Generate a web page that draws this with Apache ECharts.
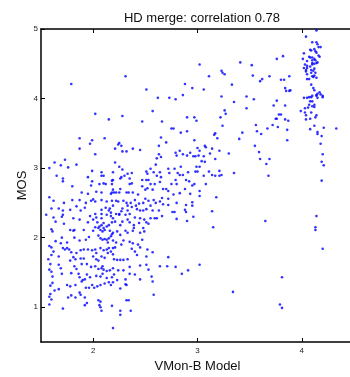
<!DOCTYPE html>
<html><head><meta charset="utf-8">
<script src="https://cdn.jsdelivr.net/npm/echarts@6/dist/echarts.min.js"></script>
<style>html,body{margin:0;padding:0;background:#fff}#c{width:350px;height:377px}</style>
</head><body><div id="c"></div>
<script>
var titleText = "HD merge: correlation 0.78";
var xName = "VMon-B Model";
var yName = "MOS";
var xTicks = [2, 3, 4];
var yTicks = [1, 2, 3, 4, 5];

// upper-left region (x 1.5-3, y 3.1-5)
var pointsUpperLeft = [
[1.79,4.21],[2.31,4.32],[2.51,4.13],[2.62,4.01],[2.73,4.01],[2.79,3.99],[2.86,4.05],[2.88,4.21],[2.95,4.15],[3.02,4.49],
[2.02,3.78],[2.15,3.70],[2.28,3.75],[2.57,3.82],[2.47,3.67],[2.66,3.67],[2.90,3.73],[2.97,3.73],[2.99,3.68],[2.75,3.57],[2.77,3.57],[2.84,3.51],[2.90,3.53],
[1.87,3.43],[1.99,3.40],[1.97,3.35],[2.11,3.43],[1.87,3.28],[2.02,3.20],[2.25,3.36],[2.24,3.34],[2.27,3.32],[2.21,3.28],[2.28,3.24],[2.32,3.24],[2.38,3.28],[2.45,3.26],[2.63,3.20],[2.65,3.44],[2.70,3.37],[2.63,3.32],[2.65,3.16],[2.61,3.14],[2.79,3.22],[2.80,3.18],[2.83,3.25],[2.86,3.20],[2.90,3.18],[2.93,3.22],[2.96,3.17],[2.98,3.17],[3.01,3.18],[3.00,3.29],[1.58,3.00]
];

// lower-left dense region (x 1.5-3, y 0.5-3.1)
var pointsLowerLeft = [
[1.63,3.08],[1.69,3.04],[1.73,3.12],[1.76,3.01],[1.84,3.05],[2.21,3.08],[2.25,3.02],[2.28,2.98],[2.60,3.05],[1.65,2.89],[1.71,2.85],[1.71,2.81],[1.99,2.96],[2.08,2.94],[2.10,2.89],[2.08,2.89],[2.19,2.94],[2.33,2.92],[2.37,2.93],[2.27,2.87],[2.35,2.85],[2.47,2.83],[2.51,2.83],[2.53,2.83],[2.51,2.95],[2.52,2.92],[2.55,2.99],[2.58,2.94],[2.61,2.89],[2.64,2.94],[2.65,2.87],[2.72,2.99],[2.73,2.93],[2.78,2.99],[2.81,2.93],[2.83,2.90],[2.84,3.02],[2.86,2.90],[2.91,2.94],
[1.80,2.74],[1.95,2.87],[1.99,2.81],[1.98,2.75],[2.06,2.77],[2.10,2.78],[2.12,2.77],[2.18,2.82],[2.19,2.83],[2.18,2.77],[2.26,2.85],[2.30,2.89],[2.35,2.77],[2.37,2.78],[2.19,2.69],[2.22,2.65],[2.25,2.65],[2.32,2.65],[2.34,2.65],[2.38,2.65],[2.43,2.62],[2.47,2.74],[2.50,2.69],[2.52,2.71],[2.55,2.77],[2.57,2.69],[2.59,2.77],[2.64,2.80],[2.67,2.70],[2.70,2.70],[2.72,2.67],[2.79,2.83],[2.80,2.77],[2.75,2.77],[2.89,2.83],[2.92,2.81],[2.88,2.70],[2.77,2.62],[2.83,2.64],[1.89,2.65],[1.95,2.63],[2.03,2.66],[2.08,2.65],[2.18,2.65],[2.20,2.65],[2.17,2.63],[2.26,2.70],
[1.58,2.58],[1.62,2.53],[1.72,2.50],[1.80,2.54],[1.87,2.54],[1.93,2.50],[1.98,2.53],[2.00,2.55],[2.02,2.52],[2.08,2.54],[2.13,2.52],[2.18,2.53],[2.19,2.46],[2.16,2.42],[2.22,2.53],[2.24,2.52],[2.29,2.53],[2.32,2.50],[2.33,2.46],[2.36,2.50],[2.40,2.54],[2.41,2.46],[2.44,2.49],[2.48,2.50],[2.50,2.56],[2.53,2.53],[2.55,2.46],[2.58,2.54],[2.60,2.50],[2.64,2.52],[2.66,2.57],[2.67,2.48],[2.72,2.56],[2.72,2.47],[2.80,2.50],[2.89,2.47],
[1.60,2.42],[1.67,2.42],[1.71,2.39],[1.71,2.33],[1.78,2.40],[1.84,2.45],[1.88,2.39],[1.92,2.43],[2.08,2.40],[2.12,2.43],[2.15,2.39],[2.17,2.36],[2.25,2.34],[2.27,2.38],[2.28,2.42],[2.33,2.39],[2.37,2.44],[2.42,2.41],[2.45,2.39],[2.48,2.39],[2.51,2.41],[2.57,2.39],[2.63,2.39],[2.76,2.37],[2.78,2.37],[2.88,2.40],[2.89,2.37],
[1.55,2.33],[1.64,2.23],[1.62,2.29],[1.70,2.30],[1.72,2.20],[1.81,2.28],[1.87,2.26],[1.97,2.31],[2.02,2.34],[2.03,2.29],[2.00,2.26],[2.08,2.34],[2.08,2.28],[2.13,2.33],[2.17,2.31],[2.19,2.28],[2.22,2.34],[2.25,2.33],[2.31,2.33],[2.35,2.34],[2.40,2.29],[2.45,2.28],[2.49,2.26],[2.51,2.22],[2.53,2.20],[2.55,2.28],[2.59,2.28],[2.61,2.28],[2.66,2.31],[2.80,2.27],[2.90,2.24],[2.96,2.30],[1.95,2.22],[2.04,2.22],[2.08,2.18],[2.10,2.21],[2.06,2.16],[2.10,2.14],[2.15,2.18],[2.18,2.22],[2.21,2.23],[2.26,2.18],[2.28,2.23],[2.33,2.26],[2.35,2.22],[2.39,2.18],[2.44,2.21],[2.39,2.14],[2.48,2.14],
[1.60,2.12],[1.61,2.09],[1.78,2.11],[1.81,2.10],[1.82,2.11],[1.91,2.11],[2.00,2.10],[2.02,2.15],[2.05,2.14],[2.07,2.11],[2.09,2.09],[2.11,2.11],[2.13,2.16],[2.16,2.10],[2.18,2.05],[2.19,2.07],[2.23,2.09],[2.31,2.10],[2.33,2.07],[2.38,2.10],[2.45,2.07],[2.49,2.09],[2.26,2.04],[1.96,2.01],[1.93,1.97],[1.87,1.96],[1.82,2.00],[1.70,2.00],[1.64,1.95],[1.69,1.92],[1.75,1.93],[2.05,2.03],[2.07,1.99],[2.09,1.97],[2.11,1.98],[2.13,1.97],[2.15,1.99],[2.17,2.02],[2.19,1.96],[2.22,1.93],[2.29,1.96],[2.35,1.94],[2.27,1.90],[2.38,1.92],[2.43,1.90],[2.47,1.97],[2.14,1.93],
[1.58,1.88],[1.60,1.86],[1.62,1.80],[1.60,1.75],[1.57,1.69],[1.71,1.85],[1.73,1.83],[1.75,1.85],[1.77,1.83],[1.79,1.79],[1.84,1.78],[1.88,1.82],[1.91,1.83],[1.95,1.83],[1.99,1.82],[2.02,1.83],[2.03,1.78],[2.07,1.85],[2.10,1.82],[2.13,1.83],[2.15,1.85],[2.17,1.80],[2.19,1.85],[2.21,1.86],[2.08,1.73],[2.11,1.71],[2.14,1.78],[2.19,1.76],[2.20,1.69],[2.23,1.68],[2.26,1.68],[2.29,1.68],[2.33,1.69],[2.37,1.84],[2.40,1.80],[2.42,1.75],[2.45,1.86],[2.51,1.73],[2.52,1.83],[2.57,1.79],[2.72,1.72],[1.67,1.73],[1.78,1.67],[1.81,1.72],[1.83,1.69],[1.88,1.70],[1.91,1.70],[2.00,1.73],[2.03,1.69],[2.05,1.67],
[1.59,1.62],[1.58,1.54],[1.60,1.51],[1.67,1.61],[1.69,1.56],[1.82,1.59],[1.84,1.55],[1.89,1.62],[1.94,1.62],[1.98,1.58],[2.02,1.59],[2.05,1.55],[2.08,1.56],[2.09,1.59],[2.10,1.54],[2.13,1.52],[2.16,1.53],[2.19,1.56],[2.24,1.53],[2.29,1.53],[2.35,1.58],[2.45,1.60],[2.51,1.61],[2.53,1.54],[2.56,1.44],[2.64,1.59],[2.71,1.59],[2.79,1.58],[2.91,1.53],[2.85,1.48],[1.61,1.44],[1.70,1.48],[1.79,1.49],[1.86,1.48],[1.87,1.43],[1.90,1.39],[1.94,1.47],[1.97,1.43],[2.03,1.45],[2.07,1.44],[2.09,1.48],[2.13,1.42],[2.18,1.43],[2.20,1.47],[2.23,1.39],[2.31,1.40],[2.35,1.48],[2.40,1.47],[2.45,1.40],
[1.61,1.35],[1.59,1.31],[1.63,1.24],[1.67,1.26],[1.75,1.32],[1.78,1.30],[1.83,1.32],[1.89,1.37],[1.92,1.40],[1.93,1.28],[1.96,1.28],[1.99,1.32],[2.01,1.28],[2.04,1.30],[2.07,1.32],[2.11,1.34],[2.15,1.36],[2.17,1.32],[2.19,1.36],[2.26,1.27],[2.31,1.33],[2.32,1.32],[2.57,1.37],[2.58,1.18],
[1.59,1.19],[1.58,1.15],[1.60,1.11],[1.58,1.04],[1.71,0.98],[1.76,1.14],[1.79,1.17],[1.83,1.14],[1.87,1.21],[1.88,1.18],[1.92,1.14],[1.94,1.06],[1.92,1.03],[2.05,1.10],[2.07,1.08],[2.06,1.03],[2.07,1.00],[2.08,0.95],[2.18,1.02],[2.32,1.10],[2.34,1.10],[2.36,0.95],[2.26,0.95],[2.26,0.89],[2.19,0.70]
];

// upper-middle region (x 3-4, y 3.1-5)
var pointsUpperMiddle = [
[3.41,4.52],[3.52,4.48],[3.76,4.57],[3.82,4.61],[3.23,4.40],[3.24,4.37],[3.26,4.35],[3.11,4.32],[3.53,4.33],[3.62,4.28],[3.60,4.25],[3.69,4.32],[3.80,4.27],[3.83,4.27],[3.88,4.32],[3.33,4.20],[3.06,4.13],[3.84,4.15],[3.85,4.11],[3.88,4.11],[3.89,4.12],[3.23,4.03],[3.47,4.03],[3.54,3.99],[3.35,3.95],[3.76,3.97],[3.73,3.90],[3.84,3.90],[3.47,3.86],[3.26,3.83],[3.27,3.78],[3.22,3.73],[3.78,3.77],[3.80,3.77],[3.76,3.71],[3.75,3.71],[3.84,3.70],[3.87,3.68],[3.24,3.61],[3.56,3.62],[3.72,3.62],[3.67,3.57],[3.77,3.59],[3.86,3.55],[3.17,3.50],[3.16,3.48],[3.19,3.43],[3.43,3.51],[3.40,3.42],[3.57,3.53],[3.61,3.49],[3.86,3.40],[2.97,3.40],[3.07,3.32],[3.08,3.30],[3.14,3.28],[3.02,3.25],[3.21,3.25],[3.30,3.21],[3.55,3.32],[3.12,3.21],[3.06,3.17],[3.17,3.13],[3.59,3.23],[3.60,3.13],[3.69,3.13]
];

// cluster near x = 4.1
var pointsRightCluster = [
[4.04,4.89],[4.14,4.98],[4.10,4.81],[4.14,4.81],[4.15,4.78],[4.16,4.74],[4.18,4.74],[4.12,4.71],[4.02,4.65],[4.09,4.69],[4.14,4.66],[4.07,4.60],[4.08,4.59],[4.10,4.59],[4.16,4.62],[4.17,4.60],[4.12,4.57],[4.13,4.55],[4.01,4.57],[4.05,4.54],[4.10,4.51],[4.12,4.50],[4.14,4.51],[4.15,4.52],[4.03,4.49],[4.05,4.47],[4.08,4.46],[4.12,4.43],[4.09,4.41],[4.04,4.41],[4.05,4.35],[4.09,4.37],[4.13,4.37],[4.12,4.33],[4.10,4.32],[4.07,4.28],[4.05,4.28],[4.09,4.20],[4.11,4.15],[4.12,4.12],[4.15,4.07],[4.17,4.09],[4.14,4.05],[4.20,4.04],[4.02,4.01],[4.07,4.02],[4.09,4.02],[4.10,4.04],[4.08,3.96],[4.10,3.96],[4.12,3.91],[4.10,3.89],[4.03,3.86],[3.99,3.82],[4.06,3.87],[4.09,3.80],[4.14,3.76],[4.04,3.70],[4.08,3.71],[4.12,3.61],[4.08,3.56],[4.21,3.58],[4.33,3.57],[4.15,3.49],[4.19,3.46],[4.18,3.35],[4.20,3.20],[4.19,3.09],[4.21,3.04],
[4.08,4.70],[4.13,4.68],[4.10,4.55],[4.10,4.49],[4.02,4.44],[4.05,4.44],[4.04,4.39],[4.11,4.40],[4.11,4.31],[4.14,4.30],[4.05,4.01],[4.14,4.04],[4.18,4.06],[4.20,4.02],[4.15,4.01],[4.07,3.91],[4.12,3.88],[4.03,3.80],[4.04,3.76],[4.13,3.73],[4.15,3.52]
];

// lower-right region (x 3-4.5, y 0.5-3.1)
var pointsLowerRight = [
[3.04,3.10],[3.07,3.09],[3.66,3.06],[2.99,3.02],[3.02,3.02],[2.98,2.95],[3.00,2.95],[3.11,2.95],[3.21,2.96],[3.06,2.89],[3.14,2.90],[3.17,2.89],[3.21,2.89],[3.23,2.90],[3.35,2.93],[3.68,2.89],[4.19,2.82],[2.97,2.77],[2.95,2.75],[3.08,2.77],[3.02,2.67],[2.93,2.63],[3.02,2.60],[3.18,2.58],[2.95,2.51],[2.95,2.46],[3.14,2.38],[4.14,2.31],[3.65,2.24],[3.15,2.15],[4.13,2.15],[4.13,2.11],[4.20,1.84],[3.02,1.61],[3.81,1.43],[3.34,1.22],[3.79,1.04],[3.81,0.99]
];

var allPoints = pointsUpperLeft.concat(pointsLowerLeft, pointsUpperMiddle, pointsRightCluster, pointsLowerRight);

var font = "'Liberation Sans', Arial, sans-serif";
var axisLineStyle = { color: '#000', width: 1.5 };

var chart = echarts.init(document.getElementById('c'), null, { renderer: 'canvas' });
chart.setOption({
  animation: false,
  backgroundColor: '#fff',
  title: {
    text: titleText, left: 197, top: 7, textAlign: 'center',
    textStyle: { fontFamily: font, fontSize: 13, fontWeight: 'normal', color: '#111' }
  },
  grid: { left: 41, width: 313, top: 29, height: 313, containLabel: false, outerBoundsMode: 'none' },
  xAxis: [{
    type: 'value', min: 1.5, max: 4.5, position: 'bottom',
    name: xName, nameLocation: 'middle', nameGap: 14,
    nameTextStyle: { fontFamily: font, fontSize: 13, color: '#111' },
    axisLine: { show: true, onZero: false, lineStyle: axisLineStyle },
    axisTick: { show: true, inside: true, length: 4, customValues: xTicks, lineStyle: { color: '#000', width: 1 } },
    axisLabel: { customValues: xTicks, fontFamily: font, fontSize: 8, color: '#222', margin: 5 },
    splitLine: { show: false }
  }, {
    type: 'value', min: 1.5, max: 4.5, position: 'top',
    axisLine: { show: true, onZero: false, lineStyle: axisLineStyle },
    axisTick: { show: true, inside: true, length: 4, customValues: xTicks, lineStyle: { color: '#000', width: 1 } },
    axisLabel: { show: false },
    splitLine: { show: false }
  }],
  yAxis: [{
    type: 'value', min: 0.5, max: 5, position: 'left',
    name: yName, nameLocation: 'middle', nameGap: 12, nameMoveOverlap: false,
    nameTextStyle: { fontFamily: font, fontSize: 13, color: '#111' },
    axisLine: { show: true, onZero: false, lineStyle: axisLineStyle },
    axisTick: { show: true, inside: true, length: 4, customValues: yTicks, lineStyle: { color: '#000', width: 1 } },
    axisLabel: { customValues: yTicks, fontFamily: font, fontSize: 8, color: '#222', margin: 3 },
    splitLine: { show: false }
  }, {
    type: 'value', min: 0.5, max: 5, position: 'right',
    axisLine: { show: true, onZero: false, lineStyle: axisLineStyle },
    axisTick: { show: false }, axisLabel: { show: false }, splitLine: { show: false }
  }],
  series: [{
    type: 'scatter',
    xAxisIndex: 0, yAxisIndex: 0,
    data: allPoints,
    symbol: 'circle',
    symbolSize: 2.6,
    itemStyle: { color: '#0000ff' },
    silent: true
  }]
});
</script>
</body></html>
